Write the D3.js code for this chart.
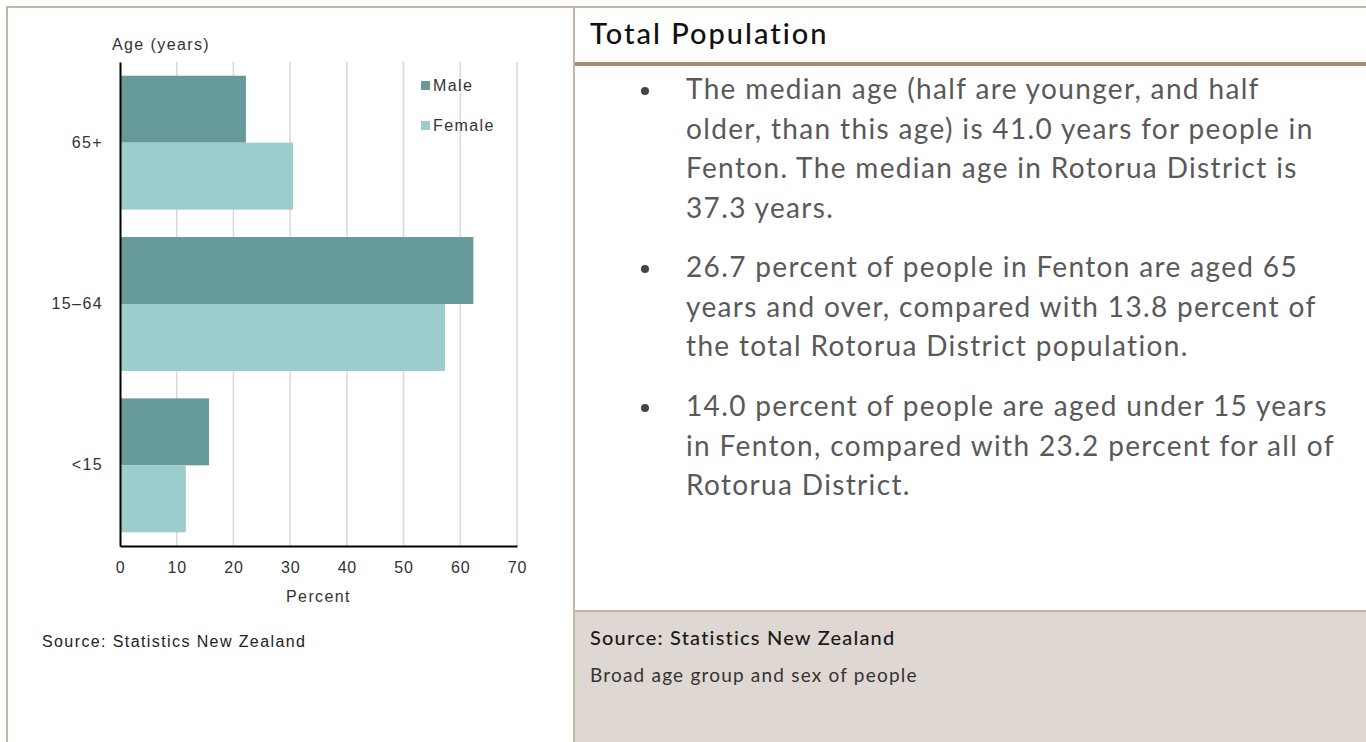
<!DOCTYPE html>
<html lang="en">
<head>
<meta charset="UTF-8" />
<title>Total Population</title>
<script src="https://cdn.jsdelivr.net/npm/d3@7"></script>
<style>
  html, body { margin: 0; padding: 0; background: #fff; }
  svg { display: block; }
</style>
</head>
<body>
<div id="container"></div>
<script>
// chart data
const ageGroups = ['65+', '15\u201364', '<15']
const sexes = ['Male', 'Female']
const malePct = [22.2, 62.3, 15.7]
const femalePct = [30.5, 57.3, 11.6]
const xTicks = [0, 10, 20, 30, 40, 50, 60, 70]

// panel text
const heading = 'Total Population'
const bullets = [
  ['The median age (half are younger, and half',
   'older, than this age) is 41.0 years for people in',
   'Fenton. The median age in Rotorua District is',
   '37.3 years.'],
  ['26.7 percent of people in Fenton are aged 65',
   'years and over, compared with 13.8 percent of',
   'the total Rotorua District population.'],
  ['14.0 percent of people are aged under 15 years',
   'in Fenton, compared with 23.2 percent for all of',
   'Rotorua District.']
]
const sourceText = 'Source: Statistics New Zealand'
const captionText = 'Broad age group and sex of people'

const width = 1366
const height = 742
const borderColor = '#c4b5a7'
const colors = { Male: '#669999', Female: '#9ccccc' }
const chartFont = '"Liberation Sans", Arial, sans-serif'
const panelFont = 'Lato, "Open Sans", sans-serif'
const chartSpacing = 1.4

const rows = ageGroups.map((g, i) => ({ group: g, Male: malePct[i], Female: femalePct[i] }))

const svg = d3.select('#container').append('svg')
  .attr('width', width)
  .attr('height', height)
  .attr('viewBox', [0, 0, width, height])

// frame
svg.append('rect')
  .attr('x', 575).attr('y', 611).attr('width', width - 575).attr('height', height - 611)
  .attr('fill', '#dfd8d2')
svg.append('line').attr('x1', 575).attr('x2', width).attr('y1', 611).attr('y2', 611)
  .attr('stroke', borderColor).attr('stroke-width', 2)
svg.append('line').attr('x1', 6).attr('x2', width).attr('y1', 7).attr('y2', 7)
  .attr('stroke', borderColor).attr('stroke-width', 2)
svg.append('line').attr('x1', 7).attr('x2', 7).attr('y1', 6).attr('y2', height)
  .attr('stroke', borderColor).attr('stroke-width', 2)
svg.append('line').attr('x1', 574).attr('x2', 574).attr('y1', 6).attr('y2', height)
  .attr('stroke', borderColor).attr('stroke-width', 2)
svg.append('line').attr('x1', 575).attr('x2', width).attr('y1', 64).attr('y2', 64)
  .attr('stroke', '#a38e75').attr('stroke-width', 4)

// ---- bar chart ----
const marginLeft = 120
const plotRight = 517
const plotTop = 62
const plotBottom = 546

const xScale = d3.scaleLinear().domain([0, 70]).range([marginLeft, plotRight])
const yScale = d3.scaleBand().domain(ageGroups).range([plotTop, plotBottom])
  .paddingInner(0.17).paddingOuter(0.085)
const subScale = d3.scaleBand().domain(sexes).range([0, yScale.bandwidth()])

// gridlines
svg.append('g')
  .selectAll('line')
  .data(xTicks.slice(1))
  .join('line')
  .attr('x1', d => xScale(d)).attr('x2', d => xScale(d))
  .attr('y1', plotTop).attr('y2', plotBottom)
  .attr('stroke', '#d9d9d9').attr('stroke-width', 1.5)

// bars
svg.append('g')
  .selectAll('g')
  .data(rows)
  .join('g')
  .attr('transform', d => `translate(0, ${yScale(d.group)})`)
  .selectAll('rect')
  .data(d => sexes.map(s => ({ sex: s, value: d[s] })))
  .join('rect')
  .attr('x', xScale(0))
  .attr('y', d => subScale(d.sex))
  .attr('width', d => xScale(d.value) - xScale(0))
  .attr('height', subScale.bandwidth())
  .attr('fill', d => colors[d.sex])

// x axis
const xAxis = svg.append('g')
  .attr('transform', `translate(0, ${plotBottom})`)
  .call(d3.axisBottom(xScale).tickValues(xTicks).tickSize(0).tickPadding(16))
xAxis.select('.domain').attr('stroke', '#000').attr('stroke-width', 2)
xAxis.selectAll('text')
  .attr('font-family', chartFont).attr('font-size', 16).attr('fill', '#333')
  .attr('letter-spacing', 0.8)

// y axis
const yAxis = svg.append('g')
  .attr('transform', `translate(${marginLeft}, 0)`)
  .call(d3.axisLeft(yScale).tickSize(0).tickPadding(17))
yAxis.select('.domain').attr('stroke', '#000').attr('stroke-width', 2)
yAxis.selectAll('text')
  .attr('font-family', chartFont).attr('font-size', 16).attr('fill', '#333')
  .attr('letter-spacing', chartSpacing)

// axis titles
svg.append('text')
  .attr('x', 112).attr('y', 50)
  .attr('font-family', chartFont).attr('font-size', 16).attr('fill', '#333')
  .attr('letter-spacing', chartSpacing)
  .text('Age (years)')
svg.append('text')
  .attr('x', (xScale(0) + xScale(70)) / 2).attr('y', 602)
  .attr('text-anchor', 'middle')
  .attr('font-family', chartFont).attr('font-size', 16).attr('fill', '#333')
  .attr('letter-spacing', chartSpacing)
  .text('Percent')

// legend
const legend = svg.append('g')
  .selectAll('g')
  .data(sexes)
  .join('g')
  .attr('transform', (d, i) => `translate(421, ${81 + i * 40})`)
legend.append('rect')
  .attr('width', 9).attr('height', 9)
  .attr('fill', d => colors[d])
legend.append('text')
  .attr('x', 12).attr('y', 10)
  .attr('font-family', chartFont).attr('font-size', 16).attr('fill', '#333')
  .attr('letter-spacing', chartSpacing)
  .text(d => d)

svg.append('text')
  .attr('x', 42).attr('y', 647)
  .attr('font-family', chartFont).attr('font-size', 16).attr('fill', '#222')
  .attr('letter-spacing', chartSpacing)
  .text(sourceText)

// ---- text panel ----
svg.append('text')
  .attr('x', 590).attr('y', 44)
  .attr('font-family', panelFont).attr('font-size', 29).attr('font-weight', 500)
  .attr('letter-spacing', 2)
  .attr('fill', '#111')
  .text(heading)

const paraTop = [99, 277, 416]
const lineHeight = 39.5
bullets.forEach((lines, i) => {
  svg.append('circle')
    .attr('cx', 645).attr('cy', paraTop[i] - 8).attr('r', 4)
    .attr('fill', '#444')
  svg.append('g')
    .selectAll('text')
    .data(lines)
    .join('text')
    .attr('x', 686)
    .attr('y', (d, j) => paraTop[i] + j * lineHeight)
    .attr('font-family', panelFont).attr('font-size', 28)
    .attr('letter-spacing', 1.35)
    .attr('fill', '#595959')
    .text(d => d)
})

svg.append('text')
  .attr('x', 590).attr('y', 645)
  .attr('font-family', panelFont).attr('font-size', 20).attr('font-weight', 500)
  .attr('letter-spacing', 1.2)
  .attr('fill', '#1a1a1a')
  .text(sourceText)
svg.append('text')
  .attr('x', 590).attr('y', 682)
  .attr('font-family', panelFont).attr('font-size', 19)
  .attr('letter-spacing', 1.2)
  .attr('fill', '#333')
  .text(captionText)
</script>
</body>
</html>
